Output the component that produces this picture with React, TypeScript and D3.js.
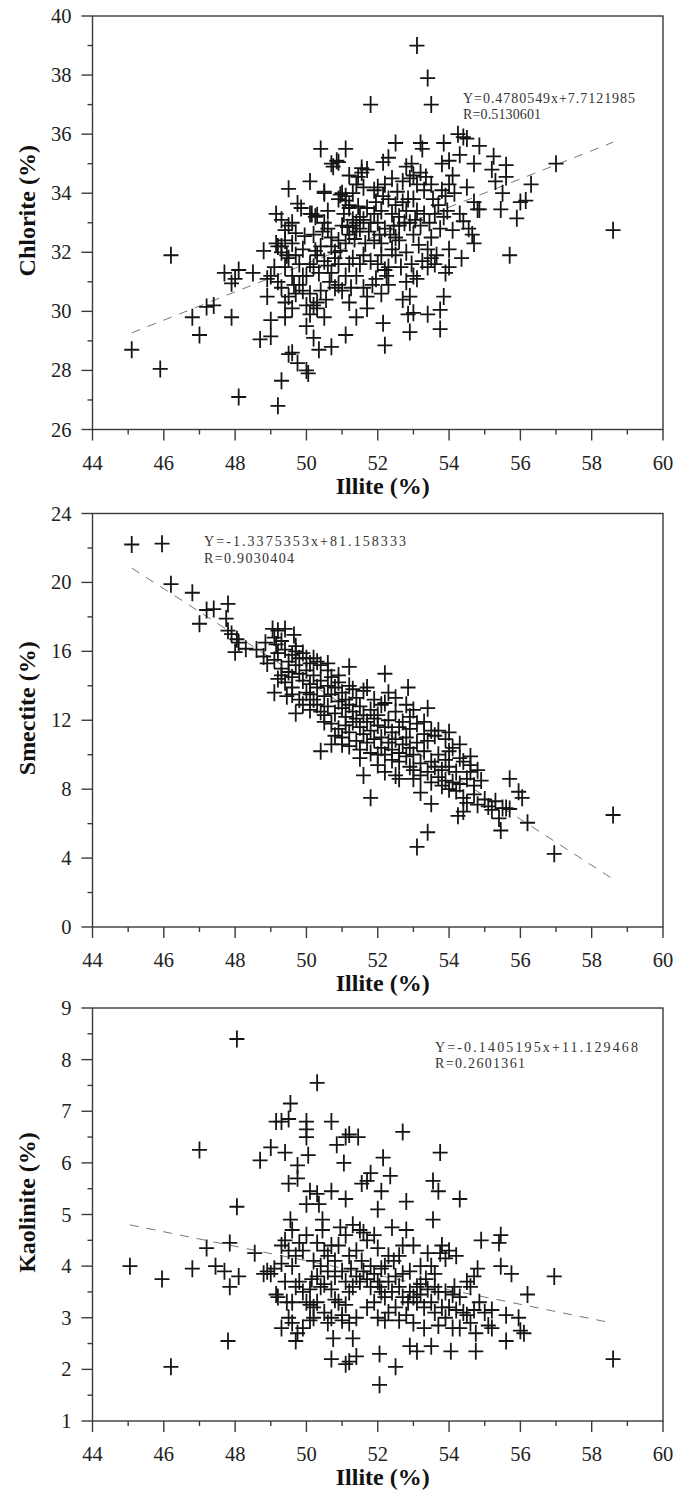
import React from "react";
import * as d3 from "d3";

// ---------------- DATA ----------------
const xTicks = [44, 46, 48, 50, 52, 54, 56, 58, 60];

const chloriteTicks = [26, 28, 30, 32, 34, 36, 38, 40];
const smectiteTicks = [0, 4, 8, 12, 16, 20, 24];
const kaoliniteTicks = [1, 2, 3, 4, 5, 6, 7, 8, 9];

// [Illite, Chlorite]
const chloritePoints: [number, number][] = [
  [53.1,39.0],[53.4,37.9],[53.5,37.0],[51.8,37.0],[58.6,32.75],[57.0,35.0],[46.2,31.9],[45.1,28.7],[45.9,28.05],[48.1,27.1],[49.2,26.8],[49.3,27.65],[46.8,29.8],[47.0,29.2],[47.2,30.15],[47.4,30.2],[47.9,29.8],[47.7,31.3],[47.9,30.95],[48.0,31.1],[48.1,31.4],[48.5,31.3],[48.8,32.05],[48.7,29.05],[49.0,29.15],[49.0,29.7],[49.4,29.8],[49.5,28.55],[49.6,28.6],[49.75,28.25],[50.0,28.0],[50.05,27.9],[50.35,28.7],[50.2,29.1],[50.7,28.8],[51.1,29.2],[52.2,28.85],[52.15,29.6],[52.9,29.3],[53.0,29.95],[52.85,29.9],[53.4,29.9],[53.75,29.4],[53.75,30.05],[53.85,30.5],[53.9,31.3],[54.0,31.5],[54.0,32.1],[54.35,31.8],[54.1,32.75],[54.4,33.05],[54.55,32.8],[54.65,32.6],[54.7,32.3],[54.8,33.45],[54.7,33.7],[54.85,33.45],[55.7,31.9],[55.9,33.15],[56.0,33.7],[56.15,33.75],[56.3,34.3],[55.45,33.45],[55.5,34.0],[55.6,34.55],[55.6,34.95],[55.2,34.8],[55.3,34.4],[55.25,35.25],[54.85,35.6],[54.5,35.85],[54.4,35.9],[54.25,36.0],[54.3,35.3],[54.7,35.0],[53.85,35.7],[54.0,35.1],[53.2,35.7],[53.25,35.5],[52.5,35.7],[52.15,35.05],[51.1,35.5],[50.4,35.5],[50.9,35.05],[50.7,35.0],[51.55,34.85],[51.7,34.8],[51.45,34.55],[51.2,34.6],[50.1,34.4],[49.5,34.15],[49.75,33.65],[50.5,34.0],[50.95,33.95],[51.1,33.75],[51.2,33.6],[50.3,33.25],[50.1,33.3],[49.15,33.3],[49.3,33.1],[49.4,32.75],[49.7,32.65],[49.15,32.3],[49.3,32.2],
  [49.2,31.0],[49.3,30.8],[49.4,31.5],[49.5,31.8],[49.5,30.5],[49.6,31.2],[49.7,31.9],[49.7,30.6],[49.8,31.6],[49.9,32.1],[49.6,32.3],[49.4,32.4],[49.2,32.2],[48.9,31.1],[48.9,30.5],[49.0,31.2],[49.1,31.5],[49.3,32.0],[49.5,32.9],[49.6,33.0],[49.8,30.9],[49.9,30.7],[50.0,30.2],[50.1,30.6],[50.2,30.2],[50.3,30.1],[50.3,30.3],[50.0,31.2],[50.1,31.6],[50.2,31.5],[50.3,31.9],[50.4,32.2],[50.5,31.7],[50.2,32.6],[50.15,33.3],[50.25,33.2],[50.5,33.0],[50.6,32.8],[50.7,32.2],[50.8,32.0],[50.9,31.6],[50.7,31.3],[50.8,30.8],[50.9,30.9],[51.0,30.7],[51.1,31.2],[51.2,31.6],[51.3,31.8],[51.1,32.3],[51.2,32.6],[51.3,32.9],[51.4,33.0],[51.5,32.8],[51.3,33.1],[51.4,32.7],[51.5,33.2],[51.2,33.5],[51.1,33.9],[51.0,34.0],[50.9,33.8],[51.3,34.0],[51.4,34.3],[51.6,34.2],[51.7,33.5],[51.8,33.0],[51.9,32.4],[51.6,31.9],[51.5,31.6],[51.4,31.2],[51.6,30.8],[51.7,30.1],[51.8,31.7],[52.0,31.6],[52.1,31.9],[52.2,31.4],[52.3,31.5],[52.1,32.3],[52.2,32.8],[52.4,32.1],[52.5,31.9],[52.6,32.4],[52.4,33.3],[52.5,33.6],[52.6,33.2],[52.7,33.7],[52.8,33.4],[52.3,33.8],[52.2,34.3],[52.0,34.2],[51.9,34.1],[52.1,33.4],[52.4,34.5],[52.7,34.4],[52.8,34.9],[52.9,34.5],[53.0,34.6],[53.1,34.3],[53.2,34.7],[53.0,33.8],[53.1,33.4],[52.9,33.0],[53.0,32.6],[53.2,32.9],[53.3,33.3],[53.4,32.1],[53.5,31.8],[53.6,31.6],[53.4,31.5],[53.0,31.2],[52.8,31.0],[52.7,30.4],[52.9,30.5],[53.1,31.1],[53.5,32.5],[53.6,33.3],[53.7,33.6],[53.8,34.1],[53.9,33.9],[54.0,34.3],[54.1,34.6],[53.8,35.0],[53.5,34.3],[53.3,34.1],[52.6,32.9],[52.5,32.5],[52.8,32.0],[52.0,33.0],[51.9,33.3],[51.0,32.9],[50.9,32.4],[50.7,32.5],[50.6,33.4],[50.5,34.05],[49.9,31.2],[50.5,29.8],[51.4,29.8],[51.2,30.3],[51.7,30.5],[52.1,30.6],[52.3,30.9],[50.4,30.7],[50.1,29.9],[50.0,29.5],[49.4,30.3],[49.6,30.1],[50.75,34.9],[50.85,35.1],[51.55,34.7],[51.6,33.1],[51.75,32.7],[52.35,32.6],[52.55,34.05],[52.65,31.5],[53.25,31.7],[53.65,31.9],[53.75,32.8],[53.95,33.4],[54.15,34.0],[54.3,33.3],[54.5,34.2],[53.55,33.8],[53.35,34.55],[52.95,35.0],[52.3,35.2],[51.95,31.1],[51.85,30.9],[51.25,30.8],[50.55,30.4],[50.65,31.0],[50.45,32.7],[49.85,33.5],[49.45,31.9],[49.65,30.9],[50.95,32.05],[51.05,33.3],[51.15,32.85],[51.35,32.45],[51.45,33.55],[51.65,32.3],[52.05,32.6],[52.45,32.9],[52.75,33.0],[53.05,33.1],[53.15,32.25],[52.95,31.6],[52.25,31.2],[51.95,33.7],[52.15,33.9],[52.85,33.8],[53.45,33.0],[53.85,33.2],[50.35,31.3],[50.6,31.55],[50.8,31.8],[50.25,32.05],[49.95,32.55],
];

// [Illite, Smectite]
const smectitePoints: [number, number][] = [
  [45.1,22.2],[45.95,22.25],[46.2,19.9],[46.8,19.4],[47.0,17.6],[47.2,18.4],[47.4,18.45],[47.8,18.75],[47.75,17.9],[47.8,17.2],[47.9,17.0],[48.05,16.7],[48.1,16.5],[48.0,15.95],[48.6,16.1],[48.8,15.7],[48.85,16.5],[49.05,17.3],[49.2,17.2],[49.15,16.4],[49.1,13.6],[49.45,13.4],[49.7,12.4],[49.65,16.95],[50.4,10.2],[50.7,10.6],[51.6,8.8],[51.8,7.5],[52.2,14.7],[52.85,13.9],[53.4,12.7],[53.1,4.65],[53.4,5.5],[53.2,7.8],[53.5,7.15],[54.25,6.45],[54.4,6.7],[55.45,5.6],[55.4,6.3],[55.2,6.8],[55.7,8.6],[55.95,7.85],[56.05,7.5],[56.2,6.05],[56.95,4.25],[58.6,6.5],[55.6,6.9],[55.7,6.85],[48.3,16.15],[48.9,15.3],
  [49.1,15.5],[49.2,15.9],[49.3,15.0],[49.3,14.6],[49.4,16.1],[49.4,14.2],[49.5,15.4],[49.5,14.8],[49.3,16.6],[49.2,14.4],[49.6,15.8],[49.6,14.5],[49.6,13.9],[49.7,15.2],[49.7,16.3],[49.8,14.7],[49.8,15.6],[49.8,13.2],[49.9,14.3],[49.9,15.9],[50.0,14.9],[50.0,13.6],[50.1,15.3],[50.1,14.1],[50.1,12.6],[50.2,14.6],[50.2,13.2],[50.2,15.6],[50.3,13.9],[50.3,12.9],[50.4,14.3],[50.4,15.2],[50.5,13.4],[50.5,11.9],[50.5,12.3],[50.6,14.0],[50.6,12.8],[50.6,15.3],[50.7,13.5],[50.7,11.8],[50.7,14.5],[50.8,12.4],[50.8,13.9],[50.9,13.1],[50.9,11.5],[50.9,14.2],[51.0,12.7],[51.0,11.0],[51.0,13.6],[51.1,12.2],[51.1,13.2],[51.1,11.7],[51.2,12.9],[51.2,15.1],[51.2,11.3],[51.3,12.5],[51.3,13.8],[51.3,11.9],[51.4,12.1],[51.4,10.8],[51.4,13.3],[51.5,11.6],[51.5,12.8],[51.5,10.3],[51.6,11.2],[51.6,12.3],[51.7,13.9],[51.7,10.7],[51.7,11.9],[51.8,11.4],[51.8,10.1],[51.8,12.6],[51.9,12.1],[51.9,10.9],[52.0,11.7],[52.0,12.3],[52.0,9.4],[52.1,10.4],[52.1,12.9],[52.1,11.0],[52.2,11.6],[52.2,10.0],[52.2,9.0],[52.3,13.6],[52.3,10.7],[52.3,12.0],[52.4,10.3],[52.4,11.3],[52.4,9.7],[52.5,10.9],[52.5,12.5],[52.5,8.8],[52.6,10.1],[52.6,11.6],[52.6,9.6],[52.7,10.6],[52.7,11.9],[52.8,9.9],[52.8,11.0],[52.8,12.9],[52.9,10.4],[52.9,9.3],[52.9,11.5],[53.0,10.0],[53.0,12.6],[53.0,9.1],[53.1,10.7],[53.1,11.8],[53.2,9.5],[53.2,8.8],[53.3,10.2],[53.3,11.2],[53.4,9.0],[53.4,10.8],[53.5,9.6],[53.5,8.4],[53.6,11.1],[53.6,9.3],[53.7,10.0],[53.7,11.4],[53.7,8.7],[53.8,9.1],[53.8,8.2],[53.9,9.7],[53.9,10.9],[53.9,8.5],[54.0,8.0],[54.0,9.3],[54.0,11.3],[54.1,8.4],[54.1,10.4],[54.2,7.9],[54.2,9.0],[54.3,8.3],[54.3,9.8],[54.4,7.5],[54.4,9.6],[54.5,8.6],[54.5,7.2],[54.6,9.0],[54.6,9.9],[54.7,7.7],[54.7,8.2],[54.8,9.1],[54.8,7.1],[54.9,8.5],[55.0,7.4],[55.1,7.0],[55.3,7.3],[55.5,6.9],
  [49.1,16.8],[49.4,17.3],[49.7,16.0],[50.0,15.6],[50.3,15.4],[50.6,14.9],[50.9,14.6],[51.2,14.0],[51.6,13.7],[51.9,13.2],[52.2,13.0],[52.5,13.3],[52.9,12.2],[53.3,11.9],[53.5,11.4],[54.0,10.2],[54.3,10.6],[54.6,9.4],[53.0,8.6],[52.6,8.6],[52.0,10.0],[51.5,9.8],[51.2,10.5],[51.0,10.6],[50.8,11.1],[50.4,12.5],[50.1,13.5],[49.6,13.5],[49.9,12.9],
];

// [Illite, Kaolinite]
const kaolinitePoints: [number, number][] = [
  [48.05,8.4],[50.3,7.55],[49.55,7.15],[49.15,6.8],[49.3,6.8],[49.5,6.85],[50.0,6.8],[50.0,6.65],[50.0,6.5],[50.7,6.8],[47.0,6.25],[49.0,6.3],[49.4,6.2],[48.7,6.05],[49.75,5.95],[50.05,6.15],[51.05,6.0],[51.1,6.5],[51.2,6.55],[51.45,6.5],[50.85,6.35],[52.7,6.6],[52.15,6.1],[53.75,6.2],[52.35,5.75],[51.8,5.8],[51.55,5.6],[51.7,5.65],[49.5,5.6],[49.75,5.7],[50.1,5.45],[50.3,5.4],[50.7,5.45],[51.1,5.3],[52.1,5.45],[53.55,5.65],[53.7,5.45],[54.3,5.3],[52.8,5.25],[48.05,5.15],[52.0,5.1],[50.0,5.2],[50.35,5.2],[53.55,4.9],[49.55,4.9],[50.45,4.9],[55.45,4.6],[55.4,4.45],[54.9,4.5],[55.45,4.0],[55.75,3.85],[56.95,3.8],[56.2,3.45],[55.95,3.0],[56.0,2.75],[56.1,2.7],[55.6,2.55],[55.6,3.05],[55.2,2.8],[55.2,3.15],[54.75,2.35],[54.75,2.7],[54.05,2.35],[53.1,2.35],[52.9,2.45],[53.5,2.45],[52.05,2.3],[52.5,2.05],[52.05,1.7],[51.4,2.25],[51.2,2.15],[51.1,2.1],[50.7,2.2],[50.75,2.6],[49.7,2.55],[49.9,2.8],[49.3,2.8],[49.15,3.45],[47.8,2.55],[46.2,2.05],[45.05,4.0],[45.95,3.75],[46.8,3.95],[47.2,4.35],[47.45,4.0],[47.7,3.9],[47.85,4.45],[47.85,3.6],[48.1,3.8],[48.55,4.25],[58.6,2.2],
  [48.8,3.85],[48.9,3.9],[49.0,3.85],[49.1,3.95],[49.2,3.4],[49.3,4.4],[49.4,4.5],[49.4,3.7],[49.5,4.3],[49.5,3.0],[49.6,4.7],[49.6,3.3],[49.6,2.9],[49.7,4.2],[49.7,3.6],[49.8,3.7],[49.8,4.45],[49.9,3.5],[50.0,4.6],[50.0,3.3],[50.1,3.25],[50.1,2.95],[50.2,3.2],[50.2,3.0],[50.2,4.1],[50.3,3.8],[50.3,4.45],[50.4,4.0],[50.4,3.6],[50.5,4.3],[50.5,3.1],[50.6,3.9],[50.6,4.2],[50.6,2.9],[50.7,4.4],[50.7,3.55],[50.7,3.0],[50.8,4.1],[50.8,3.8],[50.9,3.3],[50.9,4.4],[51.0,3.9],[51.0,3.05],[51.0,2.95],[51.1,3.7],[51.1,4.6],[51.2,3.5],[51.2,2.9],[51.2,4.2],[51.3,3.6],[51.3,4.8],[51.3,2.6],[51.4,3.8],[51.4,3.0],[51.5,4.7],[51.5,3.7],[51.6,3.9],[51.6,4.65],[51.7,3.75],[51.7,3.2],[51.8,4.0],[51.8,3.6],[51.9,3.85],[51.9,4.6],[52.0,3.7],[52.0,3.0],[52.0,4.35],[52.1,3.5],[52.1,3.95],[52.2,3.4],[52.2,4.0],[52.2,2.95],[52.3,3.7],[52.3,4.2],[52.4,3.5],[52.4,4.75],[52.5,3.8],[52.5,3.2],[52.6,2.95],[52.6,4.2],[52.6,3.6],[52.7,4.4],[52.7,3.4],[52.8,3.05],[52.8,4.7],[52.9,3.5],[52.9,3.9],[53.0,3.4],[53.0,4.4],[53.0,2.9],[53.1,3.6],[53.1,3.3],[53.2,3.45],[53.2,4.0],[53.3,3.2],[53.3,2.8],[53.4,4.25],[53.4,3.55],[53.5,3.3],[53.5,4.0],[53.6,3.6],[53.6,3.1],[53.7,2.85],[53.7,3.5],[53.8,4.4],[53.8,3.2],[53.9,3.5],[53.9,3.0],[54.0,4.3],[54.0,3.2],[54.1,2.8],[54.1,3.45],[54.2,4.2],[54.2,3.15],[54.3,2.8],[54.4,3.1],[54.5,3.05],[54.5,3.7],[54.6,3.6],[54.6,2.9],[54.7,3.8],[54.7,3.15],[54.8,3.95],[55.0,3.1],
  [49.3,4.05],[49.6,4.0],[49.9,4.3],[50.1,3.55],[50.3,3.3],[50.5,3.65],[50.8,3.35],[51.1,3.25],[51.4,4.3],[51.7,4.5],[51.9,3.3],[52.3,3.1],[52.7,3.85],[53.2,3.65],[53.6,3.85],[53.9,4.15],[54.3,3.4],[52.45,4.1],[51.55,4.1],[50.95,4.75],[50.45,4.7],[49.45,3.3],[49.75,2.7],[50.15,3.75],[51.25,3.95],[52.05,3.6],[52.85,3.3],[53.35,3.75],[53.75,4.25],[54.15,3.6],[55.1,2.85],[54.85,3.3],
];

const fits = [
  { slope: 0.4780549, intercept: 7.7121985, eq: "Y=0.4780549x+7.7121985", r: "R=0.5130601" },
  { slope: -1.3375353, intercept: 81.158333, eq: "Y=-1.3375353x+81.158333", r: "R=0.9030404" },
  { slope: -0.1405195, intercept: 11.129468, eq: "Y=-0.1405195x+11.129468", r: "R=0.2601361" },
];

// ---------------- LAYOUT ----------------
const FONT = "'Liberation Serif', 'Times New Roman', serif";
const LEFT = 92.5;
const RIGHT = 663;

type PanelCfg = {
  top: number; bottom: number; domain: [number, number]; ticks: number[]; minorStep: number;
  label: string; points: [number, number][]; fitIdx: number;
  eqX: number; eqY: number; eqW: number; rW: number;
};

const panels: PanelCfg[] = [
  { top: 16, bottom: 429.5, domain: [26, 40], ticks: chloriteTicks, minorStep: 1, label: "Chlorite (%)", points: chloritePoints, fitIdx: 0, eqX: 463, eqY: 102.5, eqW: 172, rW: 78 },
  { top: 513.5, bottom: 927, domain: [0, 24], ticks: smectiteTicks, minorStep: 2, label: "Smectite (%)", points: smectitePoints, fitIdx: 1, eqX: 204, eqY: 546, eqW: 202, rW: 90 },
  { top: 1008, bottom: 1421, domain: [1, 9], ticks: kaoliniteTicks, minorStep: 0.5, label: "Kaolinite (%)", points: kaolinitePoints, fitIdx: 2, eqX: 435, eqY: 1051.5, eqW: 203, rW: 90 },
];

const AX = "#3a3a3a";

function Panel({ cfg }: { cfg: PanelCfg }) {
  const x = d3.scaleLinear().domain([44, 60]).range([LEFT, RIGHT]);
  const y = d3.scaleLinear().domain(cfg.domain).range([cfg.bottom, cfg.top]);
  const xMinor = d3.range(45, 60, 2);
  const yMinor = d3.range(cfg.domain[0] + cfg.minorStep, cfg.domain[1], cfg.minorStep * 2);
  const fit = fits[cfg.fitIdx];
  const xs = cfg.points.map((p) => p[0]);
  const x0 = d3.min(xs)!;
  const x1 = d3.max(xs)!;
  const line = d3.line<number>().x((v) => x(v)).y((v) => y(fit.slope * v + fit.intercept));
  const midY = (cfg.top + cfg.bottom) / 2 - 12;
  return (
    <g>
      <rect x={LEFT} y={cfg.top} width={RIGHT - LEFT} height={cfg.bottom - cfg.top} fill="none" stroke={AX} strokeWidth={1.4} />
      {xTicks.map((t) => (
        <g key={"xt" + t}>
          <line x1={x(t)} x2={x(t)} y1={cfg.bottom} y2={cfg.bottom + 11} stroke={AX} strokeWidth={1.4} />
          <text x={x(t)} y={cfg.bottom + 40} textAnchor="middle" fontFamily={FONT} fontSize={20.5} fill="#222">{t}</text>
        </g>
      ))}
      {xMinor.map((t) => (
        <line key={"xm" + t} x1={x(t)} x2={x(t)} y1={cfg.bottom} y2={cfg.bottom + 5} stroke={AX} strokeWidth={1.4} />
      ))}
      {cfg.ticks.map((t) => (
        <g key={"yt" + t}>
          <line x1={LEFT - 11} x2={LEFT} y1={y(t)} y2={y(t)} stroke={AX} strokeWidth={1.4} />
          <text x={LEFT - 21} y={y(t) + 7} textAnchor="end" fontFamily={FONT} fontSize={20.5} fill="#222">{t}</text>
        </g>
      ))}
      {yMinor.map((t) => (
        <line key={"ym" + t} x1={LEFT - 5} x2={LEFT} y1={y(t)} y2={y(t)} stroke={AX} strokeWidth={1.4} />
      ))}
      <text x={(LEFT + RIGHT) / 2 + 5} y={cfg.bottom + 64} textAnchor="middle" fontFamily={FONT} fontWeight="bold" fontSize={24} fill="#111">Illite (%)</text>
      <text transform={`translate(${35},${midY}) rotate(-90)`} textAnchor="middle" fontFamily={FONT} fontWeight="bold" fontSize={24} fill="#111">{cfg.label}</text>
      <path d={line([x0, x1]) || ""} fill="none" stroke="#777" strokeWidth={1} strokeDasharray="9,8" />
      <text x={cfg.eqX} y={cfg.eqY} fontFamily={FONT} fontSize={14} fill="#333" textLength={cfg.eqW} lengthAdjust="spacing">{fit.eq}</text>
      <text x={cfg.eqX} y={cfg.eqY + 16.8} fontFamily={FONT} fontSize={14} fill="#333" textLength={cfg.rW} lengthAdjust="spacing">{fit.r}</text>
      {cfg.points.map((p, i) => {
        const cx = x(p[0]);
        const cy = y(p[1]);
        return (
          <path key={i} d={`M${cx - 7.5},${cy}h15M${cx},${cy - 8.5}v17`} stroke="#151515" strokeWidth={1.8} fill="none" />
        );
      })}
    </g>
  );
}

export default function App() {
  return (
    <svg width={676} height={1495} style={{ position: "absolute", left: 0, top: 0, background: "#fff" }}>
      <rect width={676} height={1495} fill="#fff" />
      {panels.map((p, i) => (
        <Panel key={i} cfg={p} />
      ))}
    </svg>
  );
}
